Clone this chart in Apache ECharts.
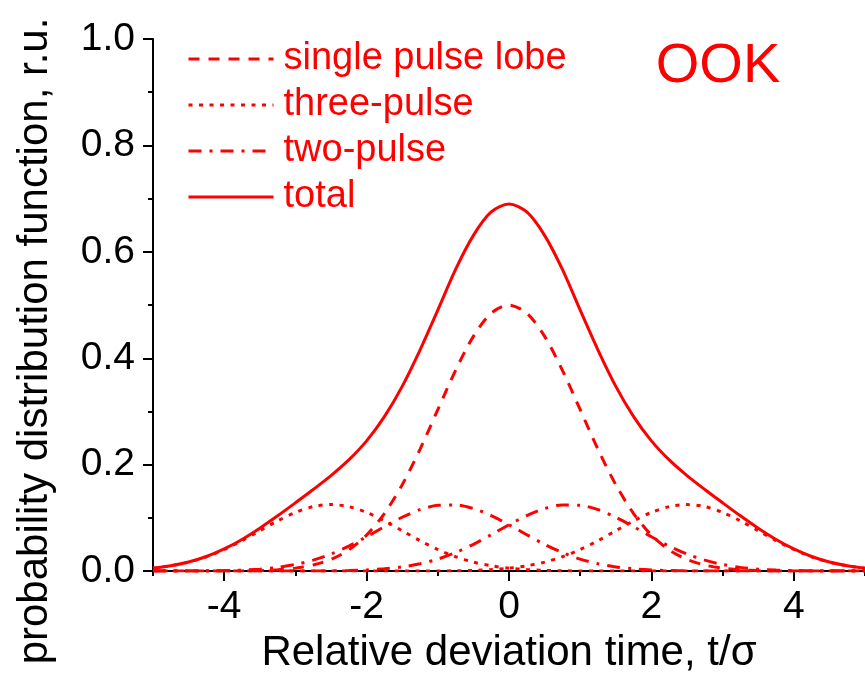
<!DOCTYPE html>
<html>
<head>
<meta charset="utf-8">
<script src="https://cdn.jsdelivr.net/npm/echarts@6/dist/echarts.min.js"></script>
<style>
  html, body { margin: 0; padding: 0; background: #fff; }
  #chart { width: 865px; height: 679px; }
</style>
</head>
<body>
<div id="chart"></div>
<script>
// relative deviation time t/sigma, step 0.25
const tValues = [-5, -4.75, -4.5, -4.25, -4, -3.75, -3.5, -3.25, -3, -2.75, -2.5, -2.25, -2, -1.75, -1.5, -1.25, -1, -0.75, -0.5, -0.25,
  0, 0.25, 0.5, 0.75, 1, 1.25, 1.5, 1.75, 2, 2.25, 2.5, 2.75, 3, 3.25, 3.5, 3.75, 4, 4.25, 4.5, 4.75, 5];

const singleLobe = [0, 0, 0, 0.0001, 0.0002, 0.0004, 0.0011, 0.0025, 0.0056, 0.0114, 0.0220, 0.0398, 0.0677, 0.1082, 0.1623, 0.2289, 0.3033, 0.3774, 0.4412, 0.4846,
  0.5, 0.4846, 0.4412, 0.3774, 0.3033, 0.2289, 0.1623, 0.1082, 0.0677, 0.0398, 0.0220, 0.0114, 0.0056, 0.0025, 0.0011, 0.0004, 0.0002, 0.0001, 0, 0, 0];

const threePulseLeft = [0.0055, 0.0100, 0.0169, 0.0270, 0.0406, 0.0572, 0.0758, 0.0944, 0.1103, 0.1212, 0.1250, 0.1212, 0.1103, 0.0944, 0.0758, 0.0572, 0.0406, 0.0270, 0.0169, 0.0100,
  0.0055, 0.0029, 0.0014, 0.0006, 0.0003, 0.0001, 0, 0, 0, 0, 0, 0, 0, 0, 0, 0, 0, 0, 0, 0, 0];
const threePulseRight = [0, 0, 0, 0, 0, 0, 0, 0, 0, 0, 0, 0, 0, 0, 0, 0.0001, 0.0003, 0.0006, 0.0014, 0.0029,
  0.0055, 0.0100, 0.0169, 0.0270, 0.0406, 0.0572, 0.0758, 0.0944, 0.1103, 0.1212, 0.1250, 0.1212, 0.1103, 0.0944, 0.0758, 0.0572, 0.0406, 0.0270, 0.0169, 0.0100, 0.0055];

const twoPulseLeft = [0, 0.0001, 0.0002, 0.0004, 0.0009, 0.0019, 0.0037, 0.0070, 0.0124, 0.0206, 0.0320, 0.0469, 0.0645, 0.0834, 0.1012, 0.1154, 0.1236, 0.1244, 0.1176, 0.1044,
  0.0871, 0.0683, 0.0503, 0.0348, 0.0226, 0.0138, 0.0079, 0.0043, 0.0022, 0.0010, 0.0005, 0.0002, 0.0001, 0, 0, 0, 0, 0, 0, 0, 0];
const twoPulseRight = [0, 0, 0, 0, 0, 0, 0, 0, 0.0001, 0.0002, 0.0005, 0.0010, 0.0022, 0.0043, 0.0079, 0.0138, 0.0226, 0.0348, 0.0503, 0.0683,
  0.0871, 0.1044, 0.1176, 0.1244, 0.1236, 0.1154, 0.1012, 0.0834, 0.0645, 0.0469, 0.0320, 0.0206, 0.0124, 0.0070, 0.0037, 0.0019, 0.0009, 0.0004, 0.0002, 0.0001, 0];

const total = [0.0055, 0.0101, 0.0171, 0.0275, 0.0417, 0.0595, 0.0806, 0.1039, 0.1284, 0.1534, 0.1795, 0.2089, 0.2447, 0.2903, 0.3472, 0.4154, 0.4904, 0.5670, 0.6310, 0.6750,
  0.6900, 0.6750, 0.6310, 0.5670, 0.4904, 0.4154, 0.3472, 0.2903, 0.2447, 0.2089, 0.1795, 0.1534, 0.1284, 0.1039, 0.0806, 0.0595, 0.0417, 0.0275, 0.0171, 0.0101, 0.0055];

const legendNames = ['single pulse lobe', 'three-pulse', 'two-pulse', 'total'];

const RED = '#ff0000';
const FONT = '"Liberation Sans", Arial, sans-serif';

function pairs(ys) {
  return tValues.map((t, i) => [t, ys[i]]);
}

function curve(name, ys, dash) {
  return {
    name: name,
    type: 'line',
    data: pairs(ys),
    smooth: 0.3,
    symbol: 'none',
    lineStyle: { color: RED, width: 3, type: dash },
    itemStyle: { color: RED }
  };
}

const chart = echarts.init(document.getElementById('chart'));
chart.setOption({
  animation: false,
  backgroundColor: '#fff',
  grid: { left: 153, top: 39, width: 720, height: 537 },
  legend: {
    orient: 'vertical',
    left: 187,
    top: 39,
    padding: 0,
    itemWidth: 85,
    itemHeight: 14,
    itemGap: 6,
    selectedMode: false,
    data: legendNames,
    lineStyle: { width: 3 },
    itemStyle: { color: 'transparent', borderWidth: 0, opacity: 0 },
    textStyle: { color: RED, fontSize: 38, fontFamily: FONT, lineHeight: 40, padding: [0, 0, 0, 5] }
  },
  xAxis: [
    {
      type: 'value',
      min: -5,
      max: 5,
      name: 'Relative deviation time, t/σ',
      nameLocation: 'middle',
      nameGap: 43,
      nameTextStyle: { color: '#000', fontSize: 42, fontFamily: FONT },
      axisLine: { show: true, onZero: false, lineStyle: { color: '#000', width: 2 } },
      axisTick: { show: true, length: 10, lineStyle: { color: '#000', width: 2 } },
      minorTick: { show: false },
      splitLine: { show: false },
      axisLabel: { color: '#000', fontSize: 39, fontFamily: FONT, margin: 17, showMinLabel: false, showMaxLabel: false }
    },
    {
      type: 'value',
      min: -5,
      max: 5,
      interval: 1,
      position: 'bottom',
      axisLine: { show: false, onZero: false },
      axisTick: { show: true, length: 5, lineStyle: { color: '#000', width: 2 } },
      axisLabel: { show: false },
      splitLine: { show: false }
    }
  ],
  yAxis: {
    type: 'value',
    min: 0,
    max: 1,
    interval: 0.2,
    axisLine: { show: true, onZero: false, lineStyle: { color: '#000', width: 2 } },
    axisTick: { show: true, length: 10, lineStyle: { color: '#000', width: 2 } },
    minorTick: { show: true, splitNumber: 2, length: 5, lineStyle: { color: '#000', width: 2 } },
    splitLine: { show: false },
    axisLabel: { color: '#000', fontSize: 39, fontFamily: FONT, margin: 18, formatter: v => v.toFixed(1) }
  },
  graphic: [
    {
      type: 'text',
      x: 35,
      y: 341,
      rotation: Math.PI / 2,
      style: { text: 'probability distribution function, r.u.', fill: '#000', fontSize: 42, fontFamily: FONT, align: 'center', verticalAlign: 'middle' }
    },
    {
      type: 'text',
      x: 718,
      y: 67,
      style: { text: 'OOK', fill: RED, fontSize: 56, fontFamily: FONT, align: 'center', verticalAlign: 'middle' }
    }
  ],
  series: [
    curve('single pulse lobe', singleLobe, [11, 9]),
    curve('three-pulse', threePulseLeft, [4, 6.5]),
    curve('three-pulse', threePulseRight, [4, 6.5]),
    curve('two-pulse', twoPulseLeft, [13, 8, 3, 8]),
    curve('two-pulse', twoPulseRight, [13, 8, 3, 8]),
    curve('total', total, 'solid')
  ]
});
</script>
</body>
</html>
